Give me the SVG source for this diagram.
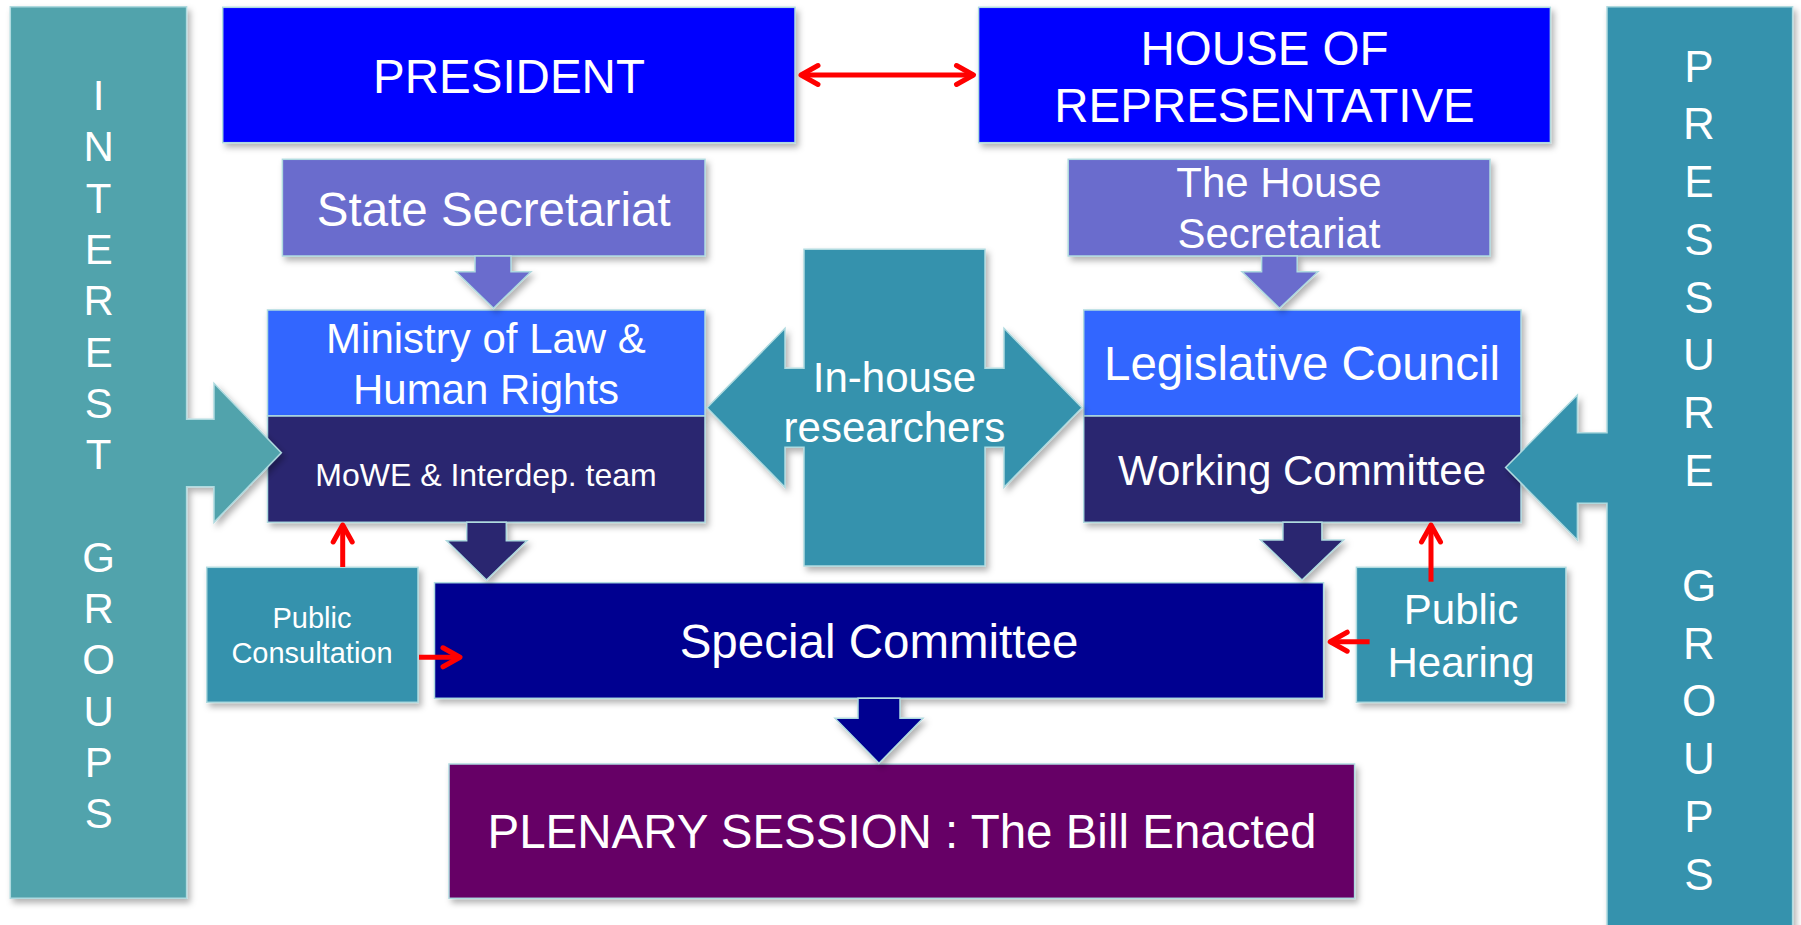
<svg xmlns="http://www.w3.org/2000/svg" width="1801" height="925" viewBox="0 0 1801 925">
<defs>
<filter id="sh" x="-10%" y="-10%" width="130%" height="130%">
<feDropShadow dx="3" dy="4" stdDeviation="3" flood-color="#000" flood-opacity="0.3"/>
</filter>
<marker id="ah" viewBox="-24 -14 30 28" markerWidth="30" markerHeight="28" refX="0" refY="0" markerUnits="userSpaceOnUse" orient="auto-start-reverse" overflow="visible">
<path d="M -17,-9.5 L 0,0 L -17,9.5" fill="none" stroke="#FF0000" stroke-width="5" stroke-linecap="round" stroke-linejoin="round"/>
</marker>
<style>
.b{stroke:#AFDADF;stroke-width:1.5;filter:url(#sh)}
.t{font-family:"Liberation Sans",Arial,sans-serif;fill:#FFFFFF;text-anchor:middle}
.red{stroke:#FF0000;stroke-width:5;fill:none;marker-end:url(#ah)}
</style>
</defs>
<rect width="1801" height="925" fill="#FFFFFF"/>

<g id="president">
<rect class="b" x="222.7" y="7.3" width="572.3" height="135.4" fill="#0000FF"/>
<text class="t" x="509" y="93" font-size="47.5">PRESIDENT</text>
</g>
<g id="house">
<rect class="b" x="978.6" y="7.3" width="571.8" height="135.4" fill="#0000FF"/>
<text class="t" x="1264.5" y="65" font-size="47.5">HOUSE OF</text>
<text class="t" x="1264.5" y="121.7" font-size="47.5">REPRESENTATIVE</text>
</g>
<g id="state-secretariat">
<rect class="b" x="282.4" y="159.3" width="422.6" height="96.7" fill="#6B6CCD"/>
<text class="t" x="493.7" y="225.5" font-size="47.5">State Secretariat</text>
</g>
<g id="house-secretariat">
<rect class="b" x="1068.2" y="159.3" width="421.8" height="96.7" fill="#6B6CCD"/>
<text class="t" x="1279" y="197" font-size="42">The House</text>
<text class="t" x="1279" y="248.3" font-size="42">Secretariat</text>
</g>
<g id="ministry">
<rect class="b" x="267.5" y="310" width="437.5" height="106" fill="#3366FF"/>
<text class="t" x="486" y="353.3" font-size="42">Ministry of Law &amp;</text>
<text class="t" x="486" y="404" font-size="42">Human Rights</text>
</g>
<g id="mowe">
<rect class="b" x="267.5" y="416" width="437.5" height="106.3" fill="#29266F"/>
<text class="t" x="486" y="485.7" font-size="32">MoWE &amp; Interdep. team</text>
</g>
<g id="legislative-council">
<rect class="b" x="1083.7" y="310" width="437.3" height="106" fill="#3366FF"/>
<text class="t" x="1302" y="380" font-size="47.5">Legislative Council</text>
</g>
<g id="working-committee">
<rect class="b" x="1083.7" y="416" width="437.3" height="106.3" fill="#29266F"/>
<text class="t" x="1302" y="485" font-size="42">Working Committee</text>
</g>
<g id="in-house-researchers">
<path class="b" fill="#3592AD" d="M804,249.3 L985,249.3 L985,368.3 L1004,368.3 L1004,328.3 L1082,407.8 L1004,487.3 L1004,447.3 L985,447.3 L985,566 L804,566 L804,447.3 L785,447.3 L785,487.3 L707,407.8 L785,328.3 L785,368.3 L804,368.3 Z"/>
<text class="t" x="894.5" y="392.3" font-size="42">In-house</text>
<text class="t" x="894.5" y="442.3" font-size="42">researchers</text>
</g>
<g id="public-consultation">
<rect class="b" x="206.7" y="567.3" width="211.3" height="135" fill="#3592AD"/>
<text class="t" x="312" y="628.3" font-size="29">Public</text>
<text class="t" x="312" y="663.3" font-size="29">Consultation</text>
</g>
<g id="special-committee">
<rect class="b" x="434.5" y="582.7" width="889.1" height="115.6" fill="#000090"/>
<text class="t" x="879" y="658.3" font-size="47.5">Special Committee</text>
</g>
<g id="public-hearing">
<rect class="b" x="1356.4" y="567.3" width="209.5" height="135" fill="#3592AD"/>
<text class="t" x="1461" y="624" font-size="42">Public</text>
<text class="t" x="1461" y="676.7" font-size="42">Hearing</text>
</g>
<g id="plenary-session">
<rect class="b" x="449" y="764" width="905.6" height="134.3" fill="#660066"/>
<text class="t" x="902" y="848.3" font-size="47.5">PLENARY SESSION : The Bill Enacted</text>
</g>
<g id="interest-groups">
<path class="b" fill="#51A3AC" d="M10.3,6.7 L186.6,6.7 L186.6,419.3 L214,419.3 L214,383.3 L281.3,452.8 L214,522.3 L214,486.7 L186.6,486.7 L186.6,898.3 L10.3,898.3 Z"/>
<g class="t" font-size="42">
<text x="98.7" y="110">I</text>
<text x="98.7" y="161.3">N</text>
<text x="98.7" y="212.6">T</text>
<text x="98.7" y="263.9">E</text>
<text x="98.7" y="315.2">R</text>
<text x="98.7" y="366.5">E</text>
<text x="98.7" y="417.8">S</text>
<text x="98.7" y="469.1">T</text>
<text x="98.7" y="571.7">G</text>
<text x="98.7" y="623">R</text>
<text x="98.7" y="674.3">O</text>
<text x="98.7" y="725.6">U</text>
<text x="98.7" y="776.9">P</text>
<text x="98.7" y="828.2">S</text>
</g>
</g>
<g id="pressure-groups">
<path class="b" fill="#3592AD" d="M1607,6.7 L1792.6,6.7 L1792.6,935 L1607,935 L1607,503.3 L1577.4,503.3 L1577.4,540 L1505.6,467.5 L1577.4,395 L1577.4,432.7 L1607,432.7 Z"/>
<g class="t" font-size="44">
<text x="1699" y="81.7">P</text>
<text x="1699" y="139.4">R</text>
<text x="1699" y="197.1">E</text>
<text x="1699" y="254.8">S</text>
<text x="1699" y="312.5">S</text>
<text x="1699" y="370.2">U</text>
<text x="1699" y="427.9">R</text>
<text x="1699" y="485.6">E</text>
<text x="1699" y="601">G</text>
<text x="1699" y="658.7">R</text>
<text x="1699" y="716.4">O</text>
<text x="1699" y="774.1">U</text>
<text x="1699" y="831.8">P</text>
<text x="1699" y="889.5">S</text>
</g>
</g>

<g id="connectors">
<path class="b" fill="#6B6CCD" d="M475,256 L511,256 L511,271.7 L531,271.7 L493.5,308.3 L456,271.7 L475,271.7 Z"/>
<path class="b" fill="#6B6CCD" d="M1261.6,256 L1297.2,256 L1297.2,271.7 L1318,271.7 L1279.5,308.3 L1242,271.7 L1261.6,271.7 Z"/>
<path class="b" fill="#29266F" d="M466.7,522.3 L506.3,522.3 L506.3,540.7 L527,540.7 L486.5,580 L446.6,540.7 L466.7,540.7 Z"/>
<path class="b" fill="#29266F" d="M1282.9,522.3 L1321.9,522.3 L1321.9,540 L1343.7,540 L1302,580 L1260.5,540 L1282.9,540 Z"/>
<path class="b" fill="#000090" d="M858,698.3 L900,698.3 L900,718.3 L923,718.3 L879,763.3 L835,718.3 L858,718.3 Z"/>
<line class="red" x1="801" y1="75" x2="973.5" y2="75" marker-start="url(#ah)"/>
<line class="red" x1="342.7" y1="567" x2="342.7" y2="525"/>
<line class="red" x1="419" y1="657.3" x2="460" y2="657.3"/>
<line class="red" x1="1431" y1="581.7" x2="1431" y2="525"/>
<line class="red" x1="1369.6" y1="641.7" x2="1330.2" y2="641.7"/>
</g>
</svg>
